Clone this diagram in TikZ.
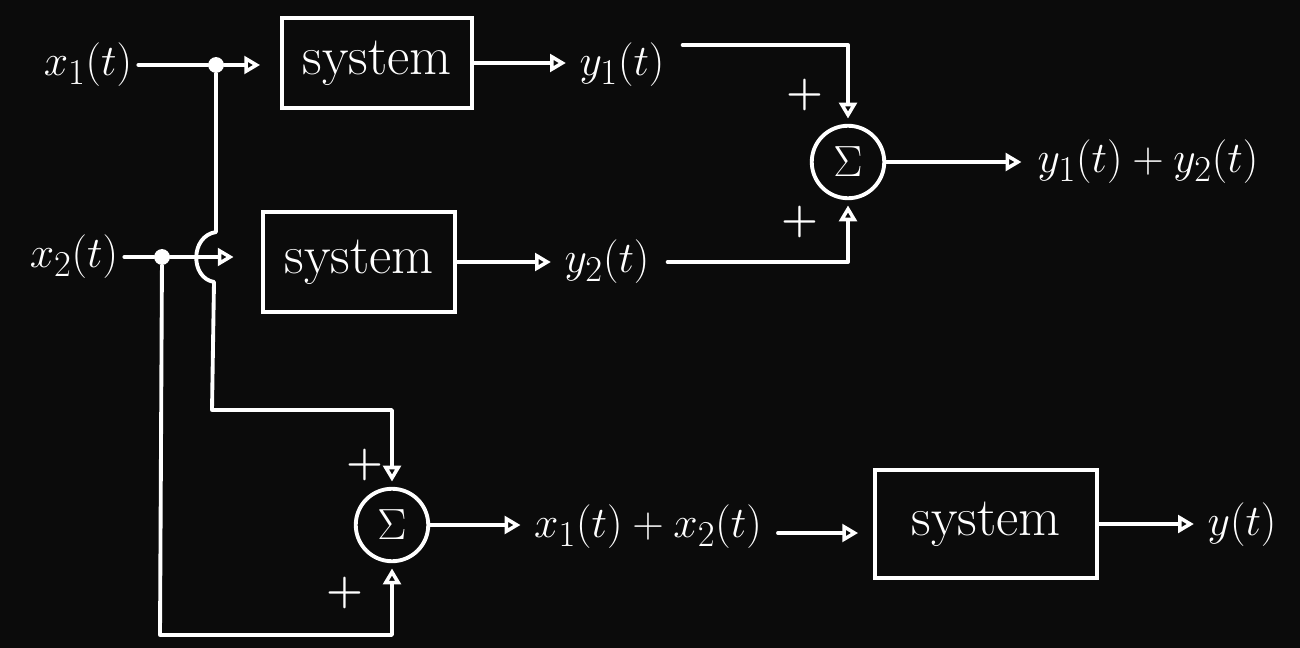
\documentclass[tikz,border=0pt]{standalone}
\usetikzlibrary{arrows.meta,calc}
\definecolor{bg}{HTML}{0B0B0B}
\begin{document}
\begin{tikzpicture}[x=0.02cm,y=-0.02cm,
  wire/.style={draw=white, line width=2.2pt, line cap=round, line join=round},
  arr/.style={wire, -{Triangle[open, length=9pt, width=10pt, line width=2pt]}},
  sysbox/.style={draw=white, line width=2.2pt, text=white, font=\fontsize{31}{34}\selectfont},
  sumnode/.style={circle, draw=white, line width=2.2pt, minimum size=1.45cm, inner sep=0pt, text=white, font=\fontsize{28}{30}\selectfont},
  lbl/.style={text=white, font=\fontsize{30}{34}\selectfont},
  dot/.style={circle, fill=white, inner sep=0pt, minimum size=9pt},
  plus/.style={text=white, font=\fontsize{24}{26}\selectfont\bfseries}]
\path[fill=bg] (0,0) rectangle (1300,648);
\useasboundingbox (0,0) rectangle (1300,648);

\node[lbl] (x1) at (88,65) {$x_1(t)$};
\node[dot] (d1) at (216,65) {};
\node[sysbox, minimum width=3.8cm, minimum height=1.8cm] (s1) at (377,63) {system};
\node[lbl] (y1) at (622,65) {$y_1(t)$};
\node[sumnode] (S1) at (848,162) {$\Sigma$};
\node[lbl] (out1) at (1148,162) {$y_1(t)+y_2(t)$};
\node[plus] (p1) at (805,95) {+};
\node[plus] (p2) at (800,222) {+};

\node[lbl] (x2) at (74,257) {$x_2(t)$};
\node[dot] (d2) at (162,257) {};
\node[sysbox, minimum width=3.84cm, minimum height=2cm] (s2) at (359,262) {system};
\node[lbl] (y2) at (607,262) {$y_2(t)$};

\node[sumnode] (S2) at (392,525) {$\Sigma$};
\node[plus] (p3) at (365,465) {+};
\node[plus] (p4) at (345,593) {+};
\node[lbl] (sumx) at (648,527) {$x_1(t)+x_2(t)$};
\node[sysbox, minimum width=4.44cm, minimum height=2.16cm] (s3) at (986,524) {system};
\node[lbl] (yt) at (1242,525) {$y(t)$};

\coordinate (y1o) at ($(y1.east)+(12,-20)$);
\coordinate (y2o) at ($(y2.east)+(12,0)$);
\coordinate (sxo) at ($(sumx.east)+(10,6)$);

% top branch
\draw[wire] (x1.east) -- (d1);
\draw[arr, shorten >=0.4cm] (d1) -- (d1 -| s1.west);
\draw[arr, shorten >=0.15cm] (s1.east) -- (s1.east -| y1.west);
\draw[arr, shorten >=3pt] (y1o) -| (S1.north);
\draw[arr, shorten >=0.2cm] (S1.east) -- (S1.east -| out1.west);

% second branch
\draw[wire] (x2.east) -- (d2);
\draw[arr, shorten >=0.55cm] (d2) -- (d2 -| s2.west);
\draw[arr, shorten >=0.15cm] (s2.east) -- (s2.east -| y2.west);
\draw[arr, shorten >=3pt] (y2o) -| (S1.south);

% x1 to lower sum with hop over x2 line
\draw[arr, shorten >=3pt] (d1) -- (216,232) .. controls (190,236) and (190,278) .. (214,282)
  -- (212,410) -| (S2.north);
% x2 to lower sum
\draw[arr, shorten >=3pt] (d2) -- (160,635) -| (S2.south);

% bottom chain
\draw[arr, shorten >=0.15cm] (S2.east) -- (S2.east -| sumx.west);
\draw[arr, shorten >=0.3cm] (sxo) -- (sxo -| s3.west);
\draw[arr, shorten >=0.15cm] (s3.east) -- (s3.east -| yt.west);
\end{tikzpicture}
\end{document}
